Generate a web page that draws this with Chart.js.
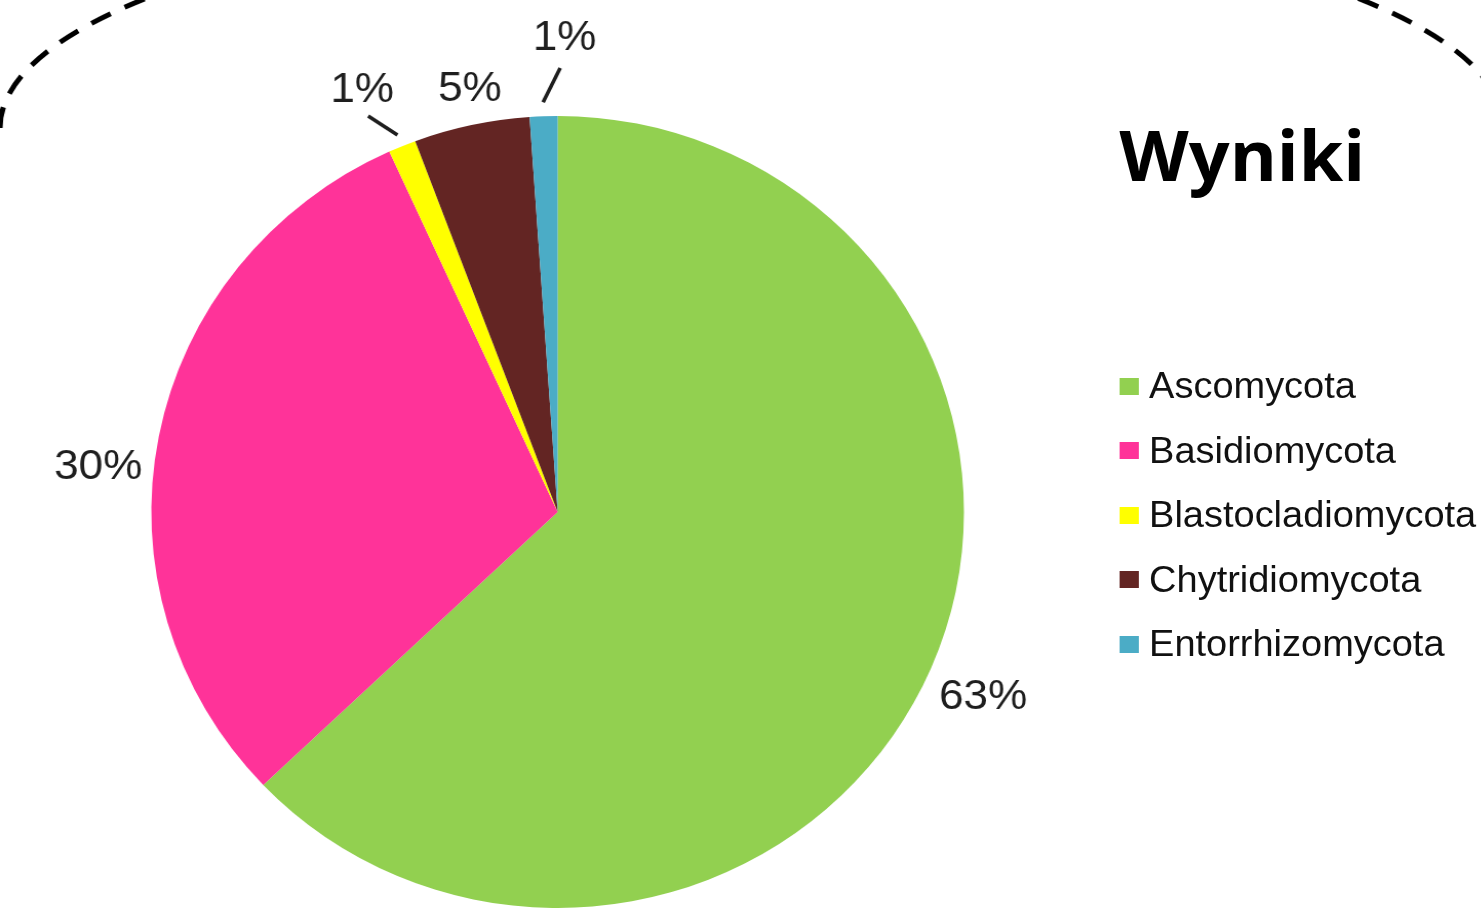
<!DOCTYPE html>
<html>
<head>
<meta charset="utf-8">
<script src="https://cdn.jsdelivr.net/npm/chart.js"></script>
<style>
  html, body { margin: 0; padding: 0; background: #fff; overflow: hidden; width: 1481px; height: 909px; }
  #stage { position: absolute; left: 0; top: 0; width: 1444px; height: 960px; transform: scaleX(1.026); transform-origin: 0 0; }
  #pie { position: absolute; left: 0; top: 0; }
  #title { position: absolute; left: 1091px; top: 119px; font-family: "Open Sans", sans-serif; font-weight: 700; font-size: 70px; line-height: 1; color: #000; white-space: nowrap; }
  #legend { position: absolute; left: 1091px; top: 0; font-family: "Liberation Sans", Arial, sans-serif; font-size: 37px; color: #111; }
  .item { position: absolute; left: 0; height: 40px; display: flex; align-items: center; white-space: nowrap; }
  .box { width: 19px; height: 17px; margin-right: 10px; flex: none; }
</style>
</head>
<body>
<div id="stage">
  <canvas id="pie" width="1444" height="960"></canvas>
  <div id="title">Wyniki</div>
  <div id="legend"></div>
</div>
<script>
// ---- data ----
const categories = ["Ascomycota", "Basidiomycota", "Blastocladiomycota", "Chytridiomycota", "Entorrhizomycota"];
const shares = [62.9, 30.3, 1.1, 4.6, 1.1];   // percent
const colors = ["#92D050", "#FF3399", "#FFFF00", "#632523", "#4BACC6"];

// label layout: extra radius (px) beyond the pie, angular nudge (deg), optional leader line radii
const labelPlacement = [
  { dr: 58, da: 0.8 },
  { dr: 54, da: -5.3 },
  { dr: 67, da: -1.8, leader: [12, 41, -2.5] },
  { dr: 35, da: 0.8 },
  { dr: 78, da: 2.8, leader: [14, 48, 2.3] }
];

const sliceLabels = {
  id: 'sliceLabels',
  afterDatasetsDraw(chart, args, opts) {
    const ctx = chart.ctx;
    const meta = chart.getDatasetMeta(0);
    const vals = chart.data.datasets[0].data;
    ctx.save();
    ctx.font = '43px "Liberation Sans", Arial, sans-serif';
    ctx.fillStyle = '#1e1e1e';
    ctx.textAlign = 'center';
    ctx.textBaseline = 'middle';
    meta.data.forEach((arc, i) => {
      const p = opts.placement[i];
      const { x, y, startAngle, endAngle, outerRadius } = arc.getProps(['x', 'y', 'startAngle', 'endAngle', 'outerRadius'], true);
      const mid = (startAngle + endAngle) / 2;
      const a = mid + p.da * Math.PI / 180;
      const r = outerRadius + p.dr;
      ctx.fillText(Math.round(vals[i]) + '%', x + Math.cos(a) * r, y + Math.sin(a) * r);
      if (p.leader) {
        const [r1, r2, d2] = p.leader;
        const a2 = mid + d2 * Math.PI / 180;
        ctx.beginPath();
        ctx.lineWidth = 3.6;
        ctx.strokeStyle = '#1e1e1e';
        ctx.moveTo(x + Math.cos(mid) * (outerRadius + r1), y + Math.sin(mid) * (outerRadius + r1));
        ctx.lineTo(x + Math.cos(a2) * (outerRadius + r2), y + Math.sin(a2) * (outerRadius + r2));
        ctx.stroke();
      }
    });
    ctx.restore();
  }
};

const frame = {
  id: 'frame',
  beforeDraw(chart) {
    const ctx = chart.ctx;
    ctx.save();
    ctx.fillStyle = '#fff';
    ctx.fillRect(0, 0, chart.width, chart.height);
    ctx.beginPath();
    ctx.setLineDash([21, 15]);
    ctx.lineWidth = 5;
    ctx.strokeStyle = '#000';
    ctx.ellipse(733, 128, 733, 219, 0, Math.PI, 2 * Math.PI);
    ctx.stroke();
    ctx.restore();
  }
};

const chart = new Chart(document.getElementById('pie'), {
  type: 'pie',
  data: {
    labels: categories,
    datasets: [{ data: shares, backgroundColor: colors, borderWidth: 0 }]
  },
  options: {
    responsive: false,
    devicePixelRatio: 1,
    animation: false,
    layout: { padding: { top: 116, bottom: 52, left: 0, right: 357 } },
    plugins: {
      legend: { display: false },
      tooltip: { enabled: false },
      sliceLabels: { placement: labelPlacement }
    }
  },
  plugins: [frame, sliceLabels]
});

// legend built from the chart's own label items
const legendEl = document.getElementById('legend');
const items = chart.options.plugins.legend.labels.generateLabels(chart);
items.forEach((it, i) => {
  const row = document.createElement('div');
  row.className = 'item';
  row.style.top = (366 + i * 64.6) + 'px';
  const box = document.createElement('span');
  box.className = 'box';
  box.style.background = it.fillStyle;
  const txt = document.createElement('span');
  txt.textContent = it.text;
  row.appendChild(box);
  row.appendChild(txt);
  legendEl.appendChild(row);
});
</script>
</body>
</html>
